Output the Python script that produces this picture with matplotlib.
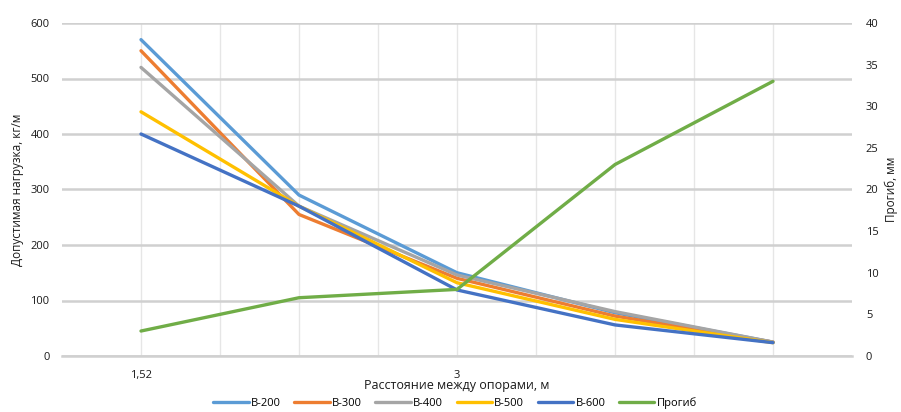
import matplotlib.pyplot as plt
import numpy as np

plt.rcParams['font.family'] = ['Open Sans', 'DejaVu Sans']

# Данные
spans = ['1,52', '', '3', '', '']
b200 = [570, 290, 150, 78, 25]
b300 = [550, 255, 140, 72, 25]
b400 = [520, 270, 146, 80, 25]
b500 = [440, 270, 132, 66, 24]
b600 = [400, 270, 119, 56, 24]
deflection = [3, 7, 8, 23, 33]

series = [('B-200', b200, '#5B9BD5'),
          ('B-300', b300, '#ED7D31'),
          ('B-400', b400, '#A5A5A5'),
          ('B-500', b500, '#FFC000'),
          ('B-600', b600, '#4472C4')]

fig = plt.figure(figsize=(9.01, 4.12), dpi=100)
ax = fig.add_axes([62/901, 1-356/412, (852-62)/901, (356-23)/412])
ax2 = ax.twinx()

x = np.arange(len(spans))
handles = []
for name, vals, col in series:
    h, = ax.plot(x, vals, color=col, lw=2.4, label=name, solid_capstyle='round', zorder=3)
    handles.append(h)
h, = ax2.plot(x, deflection, color='#70AD47', lw=2.4, label='Прогиб', solid_capstyle='round')
handles.append(h)

ax.set_xlim(-0.5, len(spans) - 0.5)
ax.set_ylim(0, 600)
ax.set_yticks(range(0, 601, 100))
ax2.set_ylim(0, 40)
ax2.set_yticks(range(0, 41, 5))

ax.set_xticks(x)
ax.set_xticklabels(spans)
for xv in np.arange(0, len(spans) - 0.5, 0.5):
    ax.axvline(xv, color='#E6E6E6', lw=1, zorder=0)
ax.grid(axis='y', color='#D0D0D0', lw=1.8, zorder=0)
ax.set_axisbelow(True)

for a in (ax, ax2):
    for s in a.spines.values():
        s.set_visible(False)
    a.tick_params(length=0, labelsize=8, colors='#1a1a1a')
ax.spines['bottom'].set_visible(True)
ax.spines['bottom'].set_color('#D0D0D0')
ax.spines['bottom'].set_linewidth(1.8)
ax.tick_params(axis='x', pad=10)
ax.tick_params(axis='y', pad=9)
ax2.tick_params(axis='y', pad=10)

ax.set_ylabel('Допустимая нагрузка, кг/м', fontsize=8.5, color='#1a1a1a',
              va='center', ha='center')
ax2.set_ylabel('Прогиб, мм', fontsize=8.5, rotation=90, color='#1a1a1a',
               va='center', ha='center')
ax.yaxis.set_label_coords((18 - 62) / 790, 0.5)
ax2.yaxis.set_label_coords((891 - 62) / 790, 0.5)
ax.set_xlabel('Расстояние между опорами, м', fontsize=9, labelpad=-1, color='#1a1a1a')

fig.legend(handles=handles, loc='center', bbox_to_anchor=(455/901, 1-403/412),
           ncol=6, frameon=False, fontsize=8, handlelength=3.2,
           handletextpad=0.2, columnspacing=1.2)

fig.savefig('out.png', dpi=100)
